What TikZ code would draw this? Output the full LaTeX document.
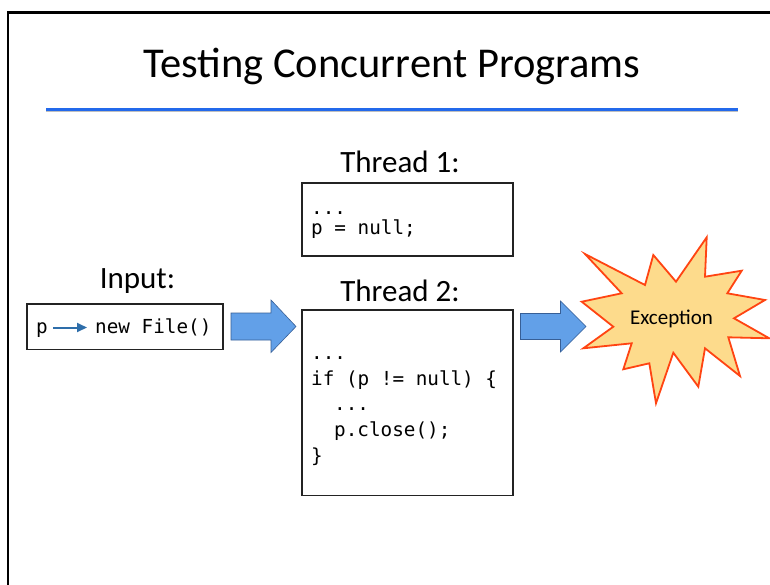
\documentclass[tikz,border=0pt]{standalone}
\usepackage{fontspec}
\setmainfont{Carlito}
\setmonofont{DejaVu Sans Mono}
\usetikzlibrary{arrows.meta}
\definecolor{rulblue}{RGB}{35,105,235}
\definecolor{arrfill}{RGB}{98,160,232}
\definecolor{arrline}{RGB}{55,95,150}
\definecolor{boomfill}{RGB}{253,219,140}
\definecolor{boomline}{RGB}{255,68,18}
\definecolor{inarrow}{RGB}{46,110,170}
\definecolor{boxline}{RGB}{35,35,35}
\tikzset{
  lbl/.style={anchor=base, inner sep=0pt, font=\fontsize{31}{31}\selectfont},
  codebox/.style={draw=boxline, line width=1.4pt, fill=white, inner sep=0pt},
  codeln/.style={anchor=base west, inner sep=0pt, font=\fontsize{19.3}{22}\selectfont\ttfamily},
  blockarrow/.style={fill=arrfill, draw=arrline, line width=0.6pt, line join=miter},
  boomstyle/.style={fill=boomfill, draw=boomline, line width=1.8pt, line join=miter}
}
\begin{document}
\begin{tikzpicture}[x=1pt,y=-1pt]
\useasboundingbox (0,0) rectangle (770,584);
\fill[white] (0,0) rectangle (770,584);
% slide frame
\draw[line width=2.2pt] (8,600) -- (8,12.5) -- (780,12.5);
% title
\node[anchor=base, inner sep=0pt, font=\fontsize{42.5}{42.5}\selectfont] (title) at (392,77.5) {Testing Concurrent Programs};
\draw[black!25, line width=2pt] (46,111.2) -- (738,111.2);
\draw[rulblue, line width=2.2pt] (46,109.5) -- (738,109.5);
% labels
\node[lbl] (inlabel) at (137.5,288) {Input:};
\node[lbl] (t1label) at (400,172) {Thread 1:};
\node[lbl] (t2label) at (400,301) {Thread 2:};
% boxes
\node[codebox, minimum width=196pt, minimum height=45.5pt] (inbox) at (125,326.75) {};
\node[codebox, minimum width=211pt, minimum height=73pt] (t1box) at (407.5,219.5) {};
\node[codebox, minimum width=211pt, minimum height=185.5pt] (t2box) at (407.5,402.75) {};
% input content
\node[codeln] (inp) at (36,333.5) {p};
\node[codeln] (infile) at (95,333.5) {new File()};
\coordinate (ina) at (53,327.5);
\coordinate (inb) at (87,327.5);
\draw[inarrow, line width=2pt, -{Triangle[length=10pt,width=9pt]}] (ina) -- (inb);
% thread 1 code
\node[codeln] (t1a) at (311,214) {...};
\node[codeln] (t1b) at (311,234.5) {p = null;};
% thread 2 code
\node[codeln] (t2a) at (311,359) {...};
\node[codeln] (t2b) at (311,385.5) {if (p != null) \{};
\node[codeln] (t2c) at (334,410.5) {...};
\node[codeln] (t2d) at (334,436.5) {p.close();};
\node[codeln] (t2e) at (311,462) {\}};
% block arrows
\draw[blockarrow] (231,313) -- (271,313) -- (271,300) -- (296,326.5) -- (271,352.5) -- (271,340) -- (231,340) -- cycle;
\draw[blockarrow] (520.5,313.5) -- (560.5,313.5) -- (560.5,301) -- (586,326.5) -- (560.5,352) -- (560.5,339.5) -- (520.5,339.5) -- cycle;
% explosion
\draw[boomstyle] (585,254) -- (645,285) -- (653.3,255) -- (676,281.7) -- (706.7,237.3) -- (705,276.7)
  -- (741.7,270.7) -- (727.3,293.3) -- (765,300) -- (734,318.3) -- (769.3,338.3) -- (728.3,337.3)
  -- (740,376) -- (705,348.3) -- (698.3,386.7) -- (673.3,352.7) -- (656,403.3) -- (649.3,363.3)
  -- (623.3,369.3) -- (631.7,343.3) -- (583.3,348.3) -- (613.3,326.7) -- (581.7,301.7) -- (621.7,293.3) -- cycle;
\node[anchor=base, inner sep=0pt, font=\fontsize{21}{21}\selectfont] (boom) at (671.5,324) {Exception};
\end{tikzpicture}
\end{document}
